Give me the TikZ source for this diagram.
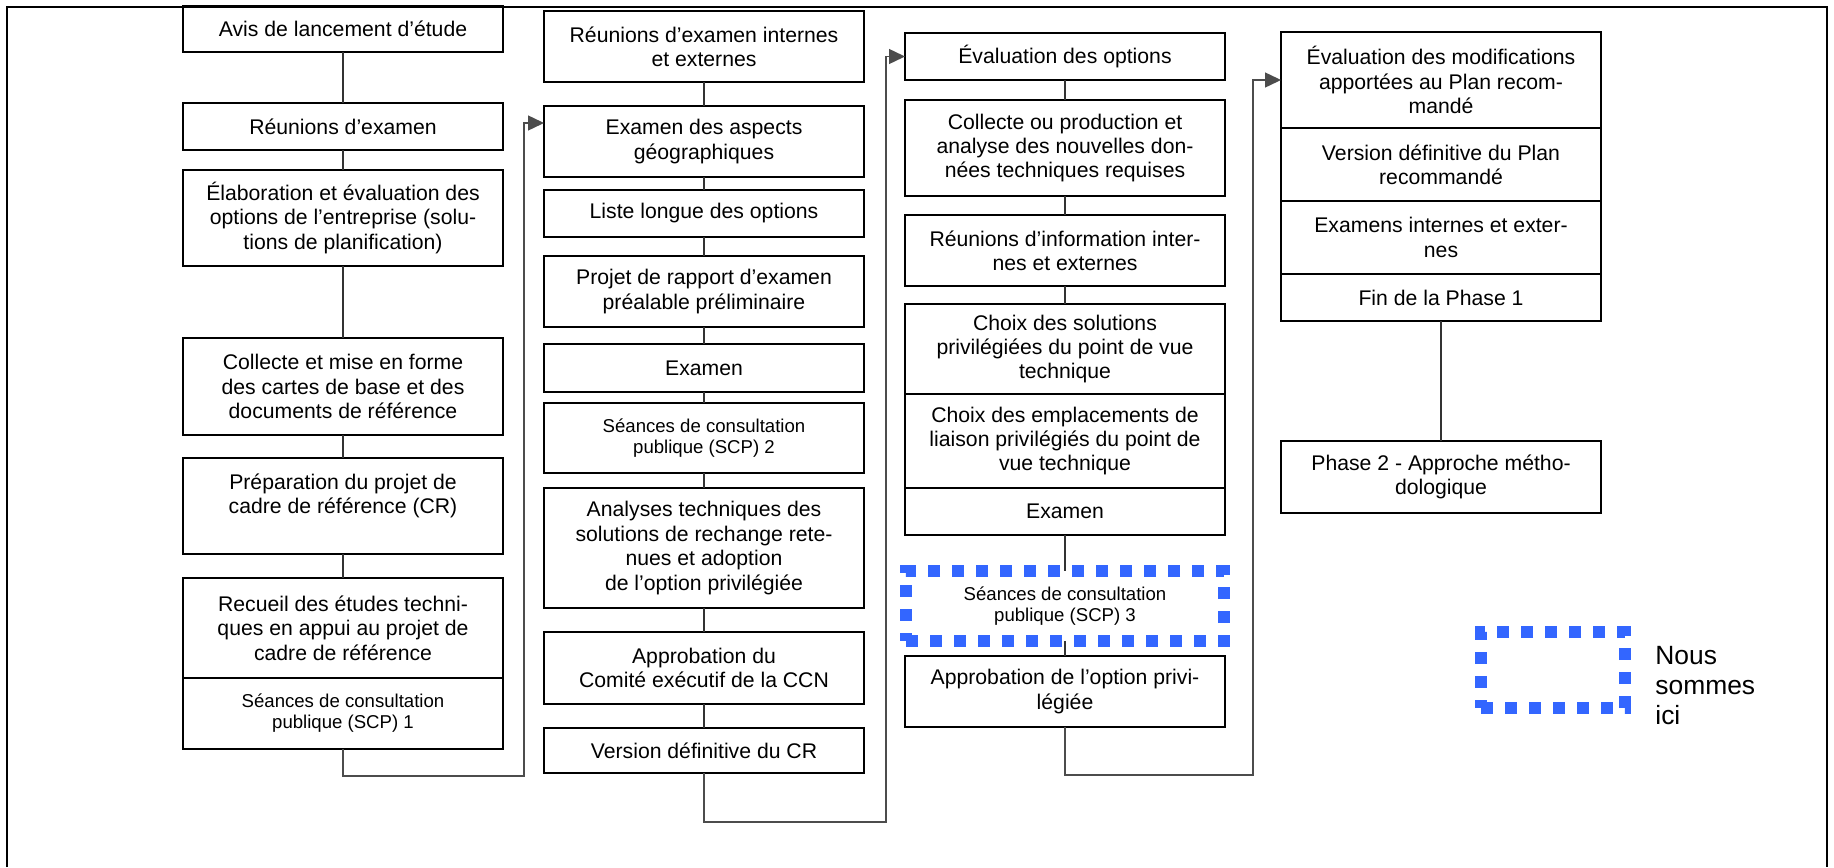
\documentclass[tikz,border=0pt]{standalone}
\usepackage{fontspec}
\setmainfont{Liberation Sans}
\usetikzlibrary{positioning, arrows.meta}

\definecolor{icibleu}{RGB}{51,102,255}

\tikzset{
	etape/.style={draw, line width=0.85pt, minimum width=160pt, align=center, inner sep=2pt, outer sep=0pt,
		font=\fontsize{10.6pt}{12.2pt}\selectfont},
	consult/.style={etape, font=\fontsize{9.3pt}{10.5pt}\selectfont},
	ici/.style={draw=icibleu, line width=6pt, dash pattern=on 6pt off 6pt, outer sep=0pt},
	lien/.style={draw=black!80, line width=0.65pt},
	retour/.style={draw=black!70, line width=0.7pt, -{Triangle[length=8pt,width=7.5pt]}},
}

\begin{document}
\begin{tikzpicture}[x=0.5pt, y=-0.5pt]
	\useasboundingbox (0,0) rectangle (1834,867);
	\draw[line width=1.4pt] (7,867) -- (7,7) -- (1827,7) -- (1827,867);

	% colonne 1
	\node[etape, minimum height=23pt] (avis) at (343,29) {Avis de lancement d’étude};
	\node[etape, minimum height=23.5pt, below=25.5pt of avis] (reun) {Réunions d’examen};
	\node[etape, minimum height=48pt, below=10pt of reun] (elab) {Élaboration et évaluation des\\options de l’entreprise (solu-\\tions de planification)};
	\node[etape, minimum height=48.5pt, below=36pt of elab] (cartes) {Collecte et mise en forme\\des cartes de base et des\\documents de référence};
	\node[etape, minimum height=48pt, below=11.5pt of cartes] (prep) {Préparation du projet de\\cadre de référence (CR)\\\mbox{}};
	\node[etape, minimum height=50pt, below=12pt of prep] (recueil) {Recueil des études techni-\\ques en appui au projet de\\cadre de référence};
	\node[consult, minimum height=35.5pt, below=0pt of recueil] (scp1) {Séances de consultation\\publique (SCP) 1};

	% colonne 2
	\node[etape, minimum height=35.5pt] (internes) at (704,46.5) {Réunions d’examen internes\\et externes};
	\node[etape, minimum height=35.5pt, below=12pt of internes] (geo) {Examen des aspects\\géographiques};
	\node[etape, minimum height=23.5pt, below=6.5pt of geo] (liste) {Liste longue des options};
	\node[etape, minimum height=35.5pt, below=9.5pt of liste] (rapport) {Projet de rapport d’examen\\préalable préliminaire};
	\node[etape, minimum height=24pt, below=8.5pt of rapport] (examen) {Examen};
	\node[consult, line width=1.3pt, minimum height=35pt, below=5.5pt of examen] (scp2) {Séances de consultation\\publique (SCP) 2};
	\node[etape, minimum height=60pt, below=7.5pt of scp2] (analyses) {Analyses techniques des\\solutions de rechange rete-\\nues et adoption\\de l’option privilégiée};
	\node[etape, minimum height=36pt, below=12pt of analyses] (ccn) {Approbation du\\Comité exécutif de la CCN};
	\node[etape, minimum height=22.5pt, below=12pt of ccn] (versioncr) {Version définitive du CR};

	% colonne 3
	\node[etape, minimum height=23.5pt] (evaluation) at (1065,56.5) {Évaluation des options};
	\node[etape, minimum height=48pt, below=10pt of evaluation] (donnees) {Collecte ou production et\\analyse des nouvelles don-\\nées techniques requises};
	\node[etape, minimum height=35.5pt, below=9.5pt of donnees] (information) {Réunions d’information inter-\\nes et externes};
	\node[etape, minimum height=45pt, below=9pt of information] (solutions) {Choix des solutions\\privilégiées du point de vue\\technique};
	\node[etape, minimum height=47pt, below=0pt of solutions] (liaison) {Choix des emplacements de\\liaison privilégiés du point de\\vue technique};
	\node[etape, minimum height=23.5pt, below=0pt of liaison] (examen3) {Examen};
	\node[consult, ici, minimum width=159pt, minimum height=35pt, below=18pt of examen3] (scp3) {Séances de consultation\\publique (SCP) 3};
	\node[etape, minimum height=35.5pt, below=7.5pt of scp3] (optionpriv) {Approbation de l’option privi-\\légiée};

	% colonne 4
	\node[etape, minimum height=48pt] (modifs) at (1441,80) {Évaluation des modifications\\apportées au Plan recom-\\mandé};
	\node[etape, minimum height=36.5pt, below=0pt of modifs] (plan) {Version définitive du Plan\\recommandé};
	\node[etape, minimum height=36.5pt, below=0pt of plan] (examens) {Examens internes et exter-\\nes};
	\node[etape, minimum height=23.5pt, below=0pt of examens] (fin) {Fin de la Phase 1};
	\node[etape, minimum height=36pt, below=60pt of fin] (phase2) {Phase 2 - Approche métho-\\dologique};

	% legende
	\node[ici, minimum width=72pt, minimum height=38pt] (legende) at (1553,670) {};
	\node[align=left, inner sep=0pt, font=\fontsize{13.2pt}{15pt}\selectfont, right=15pt of legende, yshift=-8pt] (nous) {Nous\\sommes\\ici};

	\draw[lien]
		(avis) edge (reun)
		(reun) edge (elab)
		(elab) edge (cartes)
		(cartes) edge (prep)
		(prep) edge (recueil)

		(internes) edge (geo)
		(geo) edge (liste)
		(liste) edge (rapport)
		(rapport) edge (examen)
		(examen) edge (scp2)
		(scp2) edge (analyses)
		(analyses) edge (ccn)
		(ccn) edge (versioncr)

		(evaluation) edge (donnees)
		(donnees) edge (information)
		(information) edge (solutions)
		(examen3) edge (scp3)
		(scp3) edge (optionpriv)

		(fin) edge (phase2)
		;

	\draw[retour] (scp1.south) -- ++(0,27) -| ([xshift=-10pt, yshift=9.25pt]geo.west) -- ([yshift=9.25pt]geo.west);
	\draw[retour] (versioncr.south) -- ++(0,49) -| ([xshift=-9.5pt]evaluation.west) -- (evaluation.west);
	\draw[retour] (optionpriv.south) -- ++(0,48) -| ([xshift=-14pt]modifs.west) -- (modifs.west);
\end{tikzpicture}
\end{document}
